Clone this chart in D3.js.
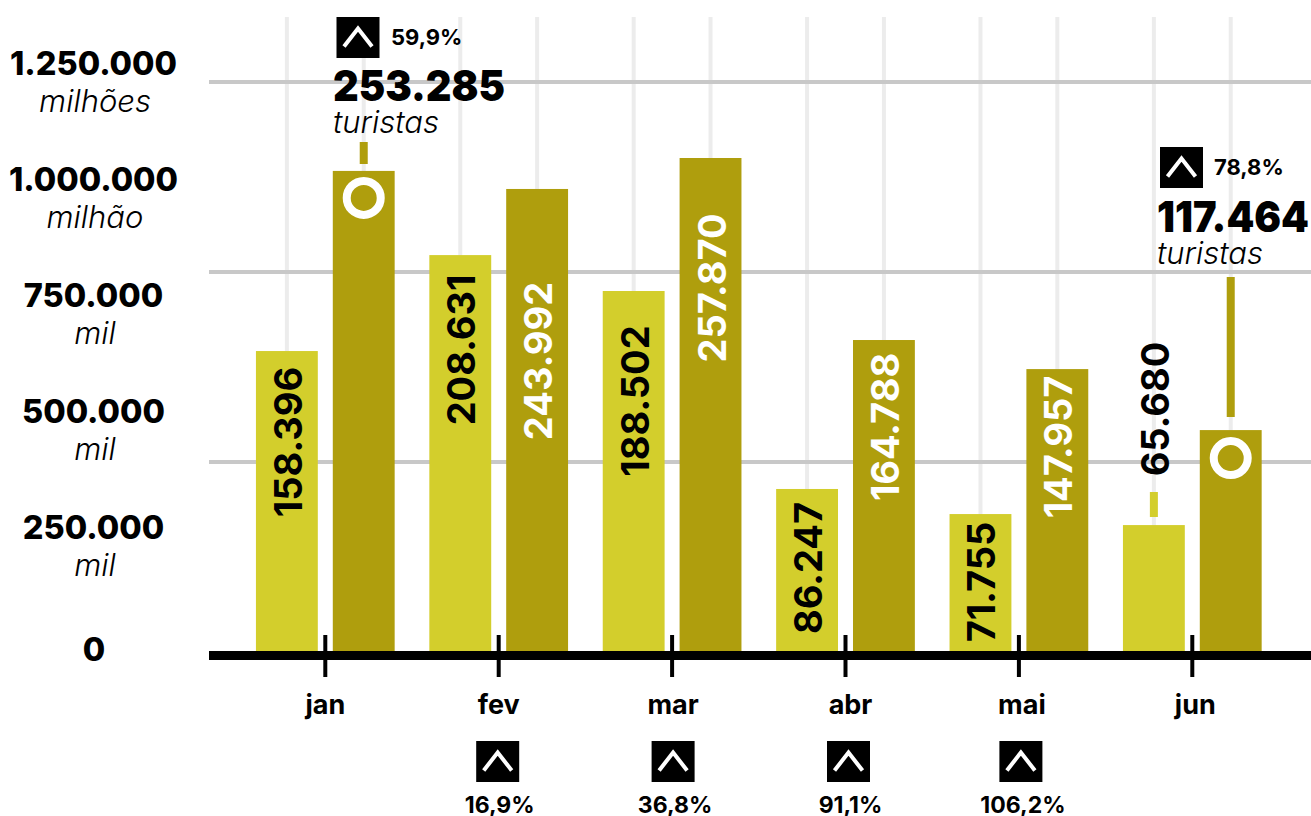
<!DOCTYPE html>
<html><head><meta charset="utf-8">
<script src="https://cdn.jsdelivr.net/npm/d3@7"></script>
<style>html,body{margin:0;padding:0;background:#fff}svg{display:block}text{font-family:Inter,sans-serif;fill:#000}</style>
</head><body><svg id="c" width="1311" height="816"></svg>
<script>
const months=["jan","fev","mar","abr","mai","jun"];
const series=["y2021","y2022"];
// bar heights
const barsLight=[158400,208900,190000,85800,72600,66800];
const barsDark=[253200,243700,260000,164200,148900,116800];
// printed labels
const labelsLight=["158.396","208.631","188.502","86.247","71.755","65.680"];
const labelsDark=[null,"243.992","257.870","164.788","147.957",null];
const changes=[null,"16,9%","36,8%","91,1%","106,2%",null];
const gridValues=[100000,200000,300000];
const axisLabels=["1.250.000","1.000.000","750.000","500.000","250.000"];
const axisUnits=["milhões","milhão","mil","mil","mil"];
const zeroLabel="0";
const LIGHT="#d3ce2c",DARK="#af9e0d";

const svg=d3.select("#c");
const y=d3.scaleLinear().domain([0,300000]).range([652,82]);
const x=d3.scaleBand().domain(months).range([238.6,1279]).paddingInner(.2).paddingOuter(.1);
const xs=d3.scaleBand().domain(series).range([0,x.bandwidth()]).paddingInner(.195);
const bw=xs.bandwidth();
const row=months.map((m,i)=>({m,i,light:barsLight[i],dark:barsDark[i]}));

// vertical gridlines
series.forEach(s=>svg.append("g").selectAll("line").data(months).join("line")
  .attr("x1",m=>x(m)+xs(s)+bw/2).attr("x2",m=>x(m)+xs(s)+bw/2)
  .attr("y1",17).attr("y2",652).attr("stroke","#ececec").attr("stroke-width",4));
// horizontal gridlines
svg.append("g").selectAll("line").data(gridValues).join("line")
  .attr("x1",209).attr("x2",1311).attr("y1",d=>y(d)).attr("y2",d=>y(d))
  .attr("stroke","#c8c8c8").attr("stroke-width",4);

// bars
svg.append("g").selectAll("rect").data(row).join("rect")
  .attr("x",d=>x(d.m)+xs("y2021")).attr("width",bw).attr("y",d=>y(d.light)).attr("height",d=>y(0)-y(d.light)).attr("fill",LIGHT);
svg.append("g").selectAll("rect").data(row).join("rect")
  .attr("x",d=>x(d.m)+xs("y2022")).attr("width",bw).attr("y",d=>y(d.dark)).attr("height",d=>y(0)-y(d.dark)).attr("fill",DARK);

// axis
svg.append("rect").attr("x",209).attr("width",1102).attr("y",651).attr("height",9).attr("fill","#000");
svg.append("g").selectAll("line").data(months).join("line")
  .attr("x1",m=>x(m)+x.bandwidth()/2).attr("x2",m=>x(m)+x.bandwidth()/2)
  .attr("y1",635).attr("y2",677).attr("stroke","#000").attr("stroke-width",4);
const monthDx=[0,0,1,5,3,3];
svg.append("g").selectAll("text").data(months).join("text")
  .attr("x",(m,i)=>x(m)+x.bandwidth()/2+monthDx[i]).attr("y",714).attr("text-anchor","middle")
  .attr("font-size",27).attr("font-weight",700).text(m=>m);

// y labels
const yLab=d3.scalePoint().domain(axisLabels).range([75,539]);
svg.append("g").selectAll("text").data(axisLabels).join("text")
  .attr("x",93.5).attr("y",d=>yLab(d)).attr("text-anchor","middle")
  .attr("font-size",32.5).attr("font-weight",800).text(d=>d);
svg.append("g").selectAll("text").data(axisUnits).join("text")
  .attr("x",95).attr("y",(d,i)=>yLab(axisLabels[i])+37).attr("text-anchor","middle")
  .attr("font-size",31).attr("font-style","italic").attr("font-weight",300).text(d=>d);
svg.append("text").attr("x",94).attr("y",661).attr("text-anchor","middle").attr("font-size",32.5).attr("font-weight",800).text(zeroLabel);

// rotated labels
function rot(cx,cy,t,fill){svg.append("text").attr("transform",`translate(${cx},${cy}) rotate(-90)`)
  .attr("text-anchor","middle").attr("font-size",38).attr("font-weight",700).style("fill",fill).text(t);}
const lightCy=[442,350,401,568,582,409];
const darkCy=[0,361,288,427,447,0];
months.forEach((m,i)=>{
  rot(x(m)+xs("y2021")+bw/2+15,lightCy[i],labelsLight[i],"#000");
  if(labelsDark[i]) rot(x(m)+xs("y2022")+bw/2+15,darkCy[i],labelsDark[i],"#fff");
});

// badges
function badge(cx,cy){
  svg.append("rect").attr("x",cx-21.5).attr("y",cy-20.5).attr("width",43).attr("height",41).attr("fill","#000");
  svg.append("path").attr("d",d3.line()([[cx-14,cy+9],[cx,cy-9],[cx+14,cy+9]])).attr("fill","none").attr("stroke","#fff").attr("stroke-width",4);
}
months.forEach((m,i)=>{ if(!changes[i])return;
  const cx=x(m)+x.bandwidth()/2+[0,0,2,4,3,0][i];
  badge(cx-1,761.5);
  svg.append("text").attr("x",cx+1).attr("y",813).attr("text-anchor","middle").attr("font-size",23).attr("font-weight",700).text(changes[i]);
});

// callouts
const callouts=[{m:"jan",v:barsDark[0],num:"253.285",w:172,pct:"59,9%",x0:333,bx:358,by:37.5,ptx:391,pty:45,ny:101,ty:133,ly1:142,ly2:164,ringOff:27},
 {m:"jun",v:barsDark[5],num:"117.464",w:152,pct:"78,8%",x0:1157,bx:1181.5,by:167.5,ptx:1214,pty:175,ny:232,ty:264,ly1:277,ly2:417,ringOff:28}];
callouts.forEach(c=>{
  const cx=x(c.m)+xs("y2022")+bw/2;
  badge(c.bx,c.by);
  svg.append("text").attr("x",c.ptx).attr("y",c.pty).attr("font-size",22).attr("font-weight",700).text(c.pct);
  svg.append("text").attr("x",c.x0).attr("y",c.ny).attr("font-size",43).attr("font-weight",900)
    .attr("textLength",c.w).attr("lengthAdjust","spacingAndGlyphs").text(c.num);
  svg.append("text").attr("x",c.x0).attr("y",c.ty).attr("font-size",31).attr("font-style","italic").attr("font-weight",300).text("turistas");
  svg.append("rect").attr("x",cx-4).attr("width",8).attr("y",c.ly1).attr("height",c.ly2-c.ly1).attr("fill",DARK);
  svg.append("circle").attr("cx",cx).attr("cy",y(c.v)+c.ringOff).attr("r",17).attr("fill","none").attr("stroke","#fff").attr("stroke-width",8);
});
const jl=x("jun")+xs("y2021")+bw/2;
svg.append("rect").attr("x",jl-4).attr("width",8).attr("y",492).attr("height",25).attr("fill",LIGHT);
</script></body></html>
